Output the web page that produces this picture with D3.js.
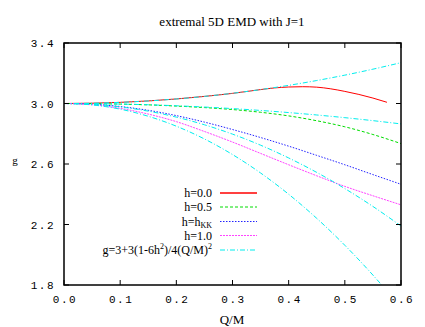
<!DOCTYPE html>
<html>
<head>
<meta charset="utf-8">
<script src="https://cdn.jsdelivr.net/npm/d3@7"></script>
<style>
body { margin: 0; background: #fff; }
.tick-label { font-family: "Liberation Mono", monospace; font-size: 11px; letter-spacing: 1.5px; fill: #000; }
.serif { font-family: "Liberation Serif", "Times New Roman", serif; }
</style>
</head>
<body>
<div class="interactive"></div>
<script>
var width = 425;
var height = 327;

// x positions (Q/M)
var qm = [0, 0.05, 0.1, 0.15, 0.2, 0.25, 0.3, 0.35, 0.4, 0.45, 0.5, 0.55, 0.6];
var qmRed = [0, 0.05, 0.1, 0.15, 0.2, 0.25, 0.3, 0.35, 0.375, 0.4, 0.425, 0.45, 0.475, 0.5, 0.525, 0.55, 0.575];

// numerical curves
var gH00 = [3.0, 3.002, 3.0075, 3.017, 3.03, 3.047, 3.067, 3.092, 3.103, 3.109, 3.111, 3.108, 3.097, 3.08, 3.06, 3.036, 3.008];
var gH05 = [3.0, 2.999, 2.996, 2.991, 2.983, 2.973, 2.96, 2.942, 2.918, 2.886, 2.846, 2.795, 2.735];
var gHKK = [3.0, 2.995, 2.98, 2.955, 2.92, 2.877, 2.828, 2.775, 2.718, 2.657, 2.595, 2.53, 2.466];
var gH10 = [3.0, 2.992, 2.968, 2.93, 2.88, 2.815, 2.745, 2.67, 2.595, 2.522, 2.452, 2.39, 2.33];

// small Q/M approximations (cyan)
var apH00 = [3.0, 3.0019, 3.0075, 3.0169, 3.03, 3.0469, 3.0675, 3.0919, 3.12, 3.1519, 3.1875, 3.2269, 3.27];
var apH05 = [3.0, 2.9991, 2.9963, 2.9916, 2.985, 2.9766, 2.9663, 2.9541, 2.94, 2.9241, 2.9063, 2.8866, 2.865];
var apHKK = [3.0, 2.9944, 2.9775, 2.9494, 2.91, 2.8594, 2.7975, 2.7244, 2.64, 2.5444, 2.4375, 2.3194, 2.19];
var apH10 = [3.0, 2.9906, 2.9625, 2.9156, 2.85, 2.7656, 2.6625, 2.5406, 2.4, 2.2406, 2.0625, 1.8656, 1.65];

var xTicks = [0, 0.1, 0.2, 0.3, 0.4, 0.5, 0.6];
var yTicks = [1.8, 2.2, 2.6, 3.0, 3.4];

var plotLeft = 64, plotRight = 401, plotTop = 43, plotBottom = 285;

var svg = d3.select(".interactive")
    .append("svg")
    .attr("width", width)
    .attr("height", height);

var x = d3.scaleLinear().domain([0, 0.6]).range([plotLeft, plotRight]);
var y = d3.scaleLinear().domain([1.8, 3.4]).range([plotBottom, plotTop]);

svg.append("clipPath").attr("id", "plotclip")
    .append("rect")
    .attr("x", plotLeft).attr("y", plotTop)
    .attr("width", plotRight - plotLeft).attr("height", plotBottom - plotTop);

var line = d3.line()
    .x(function(d) { return x(d[0]); })
    .y(function(d) { return y(d[1]); })
    .curve(d3.curveMonotoneX);

var series = [
    { xs: qmRed, ys: gH00, color: "#ff0000", dash: null },
    { xs: qm, ys: gH05, color: "#00dd00", dash: "3,2" },
    { xs: qm, ys: gHKK, color: "#2222ff", dash: "1.5,1.5" },
    { xs: qm, ys: gH10, color: "#ff44ff", dash: "2,1" },
    { xs: qm, ys: apH00, color: "#00eeee", dash: "5,2,1,2" },
    { xs: qm, ys: apH05, color: "#00eeee", dash: "5,2,1,2" },
    { xs: qm, ys: apHKK, color: "#00eeee", dash: "5,2,1,2" },
    { xs: qm, ys: apH10, color: "#00eeee", dash: "5,2,1,2" }
];

var g = svg.append("g").attr("clip-path", "url(#plotclip)");

g.selectAll("path")
    .data(series)
    .enter()
    .append("path")
    .attr("fill", "none")
    .attr("stroke", function(d) { return d.color; })
    .attr("stroke-width", 1)
    .attr("stroke-dasharray", function(d) { return d.dash; })
    .attr("d", function(d) {
        return line(d.xs.map(function(v, i) { return [v, d.ys[i]]; }));
    });

// frame
svg.append("rect")
    .attr("x", plotLeft).attr("y", plotTop)
    .attr("width", plotRight - plotLeft).attr("height", plotBottom - plotTop)
    .attr("fill", "none")
    .attr("stroke", "#000")
    .attr("stroke-width", 1.5);

// ticks (inward, all four sides)
var tl = 5;
xTicks.forEach(function(t) {
    svg.append("line").attr("x1", x(t)).attr("x2", x(t)).attr("y1", plotBottom).attr("y2", plotBottom - tl).attr("stroke", "#000");
    svg.append("line").attr("x1", x(t)).attr("x2", x(t)).attr("y1", plotTop).attr("y2", plotTop + tl).attr("stroke", "#000");
    svg.append("text")
        .attr("class", "tick-label")
        .attr("x", x(t) + 1)
        .attr("y", plotBottom + 18)
        .attr("text-anchor", "middle")
        .text(d3.format(".1f")(t));
});
yTicks.forEach(function(t) {
    svg.append("line").attr("x1", plotLeft).attr("x2", plotLeft + tl).attr("y1", y(t)).attr("y2", y(t)).attr("stroke", "#000");
    svg.append("line").attr("x1", plotRight).attr("x2", plotRight - tl).attr("y1", y(t)).attr("y2", y(t)).attr("stroke", "#000");
    svg.append("text")
        .attr("class", "tick-label")
        .attr("x", 55)
        .attr("y", y(t) + 4)
        .attr("text-anchor", "end")
        .text(d3.format(".1f")(t));
});

// title and axis labels
svg.append("text")
    .attr("class", "serif")
    .attr("x", 232)
    .attr("y", 26)
    .attr("text-anchor", "middle")
    .style("font-size", "13px")
    .text("extremal 5D EMD with J=1");

svg.append("text")
    .attr("class", "serif")
    .attr("x", 232)
    .attr("y", 324)
    .attr("text-anchor", "middle")
    .style("font-size", "13px")
    .text("Q/M");

svg.append("text")
    .attr("class", "serif")
    .attr("x", 15)
    .attr("y", 164)
    .attr("text-anchor", "middle")
    .style("font-size", "11px")
    .text("g");

// legend
var legendY = [193, 207, 221.5, 235.5, 250];
var legendSeries = [0, 1, 2, 3, 4];
var lg = svg.append("g");

legendSeries.forEach(function(si, i) {
    var s = series[si];
    lg.append("line")
        .attr("x1", 220).attr("x2", 257)
        .attr("y1", legendY[i]).attr("y2", legendY[i])
        .attr("stroke", s.color)
        .attr("stroke-width", si === 0 ? 1.5 : 1)
        .attr("stroke-dasharray", s.dash);
});

function legendText(yy) {
    return lg.append("text")
        .attr("class", "serif")
        .attr("x", 212)
        .attr("y", yy + 4)
        .attr("text-anchor", "end")
        .style("font-size", "12px");
}

legendText(legendY[0]).text("h=0.0");
legendText(legendY[1]).text("h=0.5");
var t3 = legendText(legendY[2]);
t3.append("tspan").text("h=h");
t3.append("tspan").attr("dy", 2).style("font-size", "8px").text("KK");
legendText(legendY[3]).text("h=1.0");
var t5 = legendText(legendY[4]);
t5.append("tspan").text("g=3+3(1-6h");
t5.append("tspan").attr("dy", -5).style("font-size", "8px").text("2");
t5.append("tspan").attr("dy", 5).text(")/4(Q/M)");
t5.append("tspan").attr("dy", -5).style("font-size", "8px").text("2");
</script>
</body>
</html>
